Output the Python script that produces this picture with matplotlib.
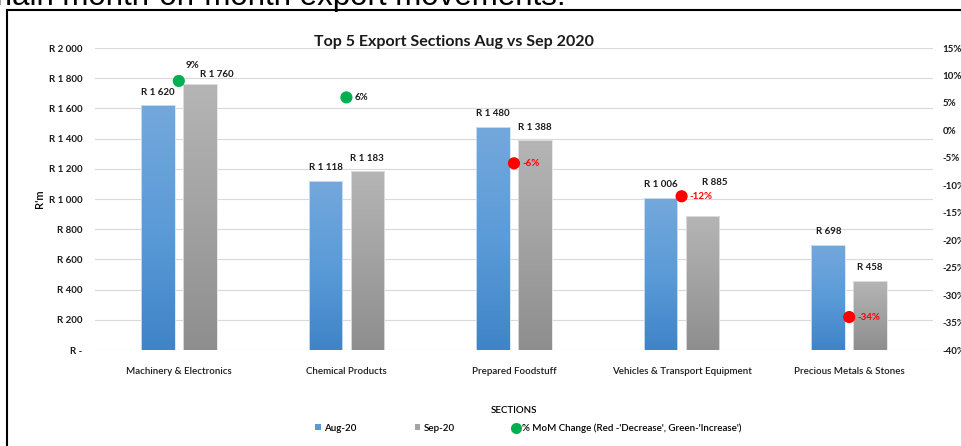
import matplotlib
matplotlib.use("Agg")
import matplotlib.pyplot as plt
import numpy as np
from matplotlib.lines import Line2D
from matplotlib.patches import Patch
from matplotlib.colors import LinearSegmentedColormap

plt.rcParams['font.family'] = ['Lato', 'DejaVu Sans']
plt.rcParams['axes.unicode_minus'] = False

# data
sections = ['Machinery & Electronics', 'Chemical Products', 'Prepared Foodstuff',
            'Vehicles & Transport Equipment', 'Precious Metals & Stones']
aug20 = [1620, 1118, 1480, 1006, 698]
sep20 = [1760, 1183, 1388, 885, 458]
mom_pct = [9, 6, -6, -12, -34]


def rand(v):
    if v == 0:
        return 'R -'
    return 'R ' + '{:,}'.format(int(v)).replace(',', ' ')


fig = plt.figure(figsize=(9.61, 4.46), dpi=100)
ax = fig.add_axes([95 / 961, 1 - 350 / 446, 838 / 961, 302 / 446])
ax2 = ax.twinx()

# frame of the document box + clipped text above it
fig.add_artist(Line2D([7 / 961, 7 / 961], [1 - 445 / 446, 1 - 10 / 446], color='black', lw=1.5))
fig.add_artist(Line2D([7 / 961, 1], [1 - 10 / 446, 1 - 10 / 446], color='black', lw=1.5))
fig.text(566 / 961, 1 - 4.5 / 446, 'main month-on-month export movements.', ha='right', va='baseline',
         fontsize=22.5, family=['Liberation Sans', 'DejaVu Sans'])

x = np.arange(len(sections))
w = 0.2
b1 = ax.bar(x - 0.125, aug20, w, facecolor='none', edgecolor='#d6e4f3', lw=0.6, zorder=3)
b2 = ax.bar(x + 0.125, sep20, w, facecolor='none', edgecolor='#e3e3e3', lw=0.6, zorder=3)

blue = LinearSegmentedColormap.from_list('b', ['#3f84c8', '#5b9bd8', '#74a8dc'])
grey = LinearSegmentedColormap.from_list('g', ['#8e8e8e', '#a2a2a2', '#b5b5b5'])
grad = np.linspace(0, 1, 256).reshape(-1, 1)
for bars, cmap in ((b1, blue), (b2, grey)):
    for p in bars:
        x0, y0 = p.get_x(), p.get_y()
        im = ax.imshow(grad, extent=[x0, x0 + p.get_width(), y0, y0 + p.get_height()],
                       origin='lower', cmap=cmap, aspect='auto', zorder=2)
        im.set_clip_path(p)

ax.set_xlim(-0.5, 4.5)
ax.set_ylim(0, 2000)
ax.set_yticks(np.arange(0, 2001, 200))
ax.set_yticklabels([rand(v) for v in range(0, 2001, 200)], fontweight='bold')
ax.set_xticks(x)
ax.set_xticklabels(sections, fontweight='semibold')
ax.grid(axis='y', color='#d9d9d9', lw=0.8, zorder=0)
ax.set_axisbelow(True)
for s in ax.spines.values():
    s.set_visible(False)
for s in ax2.spines.values():
    s.set_visible(False)
ax.tick_params(axis='both', length=0, labelsize=7, colors='#1a1a1a')
ax.tick_params(axis='y', pad=9)
ax.tick_params(axis='x', pad=12)
ax.set_ylabel("R'm", fontsize=8, labelpad=3, fontweight='semibold')
ax.set_xlabel('SECTIONS', fontsize=7, labelpad=22, fontweight='semibold')

# value labels (offsets in points)
off1 = [(0, 9.5)] * 5
off2 = [(12, 7), (0, 9.5), (0, 9.5), (9, 24.5), (0, 9.5)]
for p, v, o in zip(b1, aug20, off1):
    ax.annotate(rand(v), (p.get_x() + p.get_width() / 2, v), xytext=o, textcoords='offset points',
                ha='center', va='center', fontsize=7, color='#1a1a1a', fontweight='bold')
for p, v, o in zip(b2, sep20, off2):
    ax.annotate(rand(v), (p.get_x() + p.get_width() / 2, v), xytext=o, textcoords='offset points',
                ha='center', va='center', fontsize=7, color='#1a1a1a', fontweight='bold')

# MoM change on secondary axis
ax2.set_ylim(-40, 15)
ax2.set_yticks(np.arange(-40, 16, 5))
ax2.set_yticklabels(['%d%%' % t for t in range(-40, 16, 5)], fontweight='bold')
ax2.tick_params(axis='y', length=0, labelsize=7, colors='#1a1a1a', pad=7)
cols = ['#00b050' if m > 0 else '#ff0000' for m in mom_pct]
ax2.scatter(x, mom_pct, s=60, c=cols, zorder=5)
for xi, m in zip(x, mom_pct):
    o = (5, 11) if m == 9 else (6, 0)
    ax2.annotate('%d%%' % m, (xi, m), xytext=o, textcoords='offset points', ha='left', va='center',
                 fontsize=7, color='#1a1a1a' if m > 0 else '#ff0000', fontweight='bold')

fig.text(454 / 961, 1 - 42 / 446, 'Top 5 Export Sections Aug vs Sep 2020', ha='center', va='center',
         fontsize=11.5, fontweight='bold', color='#1a1a1a')

handles = [Patch(facecolor='#5b9bd5'), Patch(facecolor='#a5a5a5'),
           Line2D([], [], marker='o', ls='', color='#00b050', markersize=7)]
labels = ['Aug-20', 'Sep-20', "% MoM Change (Red -'Decrease', Green-'Increase')"]
leg = fig.legend(handles, labels, loc='center', bbox_to_anchor=(528 / 961, 1 - 428 / 446), ncol=3,
                 frameon=False, fontsize=7, handlelength=0.6, handleheight=0.6, handletextpad=0.3,
                 columnspacing=6)
for t in leg.get_texts():
    t.set_fontweight('semibold')

fig.savefig('out.png', dpi=100)
